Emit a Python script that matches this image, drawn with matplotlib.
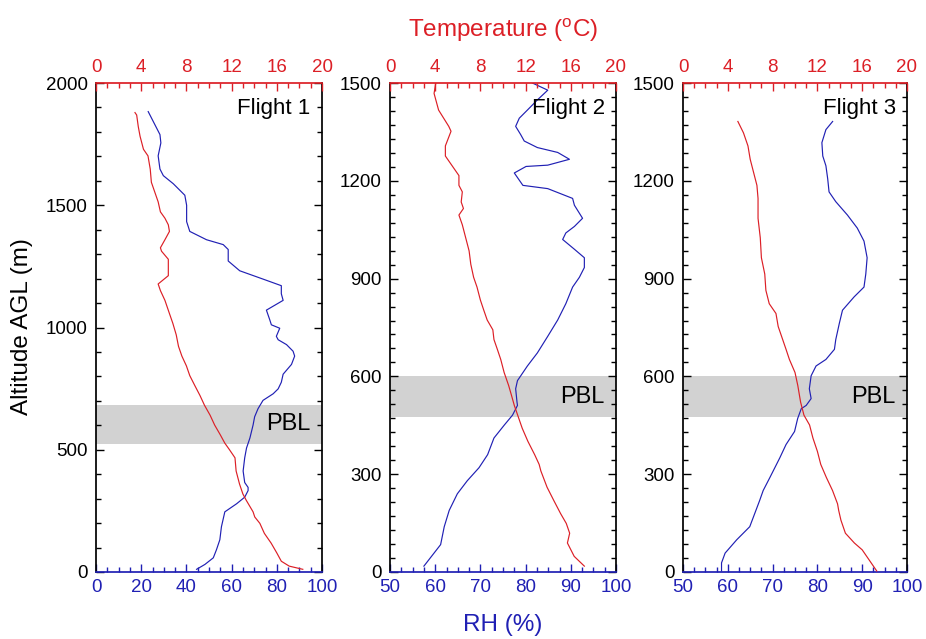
import matplotlib
matplotlib.use('Agg')
import matplotlib.pyplot as plt
from matplotlib.ticker import MultipleLocator

plt.rcParams['font.family'] = ['Liberation Sans', 'DejaVu Sans']
plt.rcParams['mathtext.fontset'] = 'custom'
plt.rcParams['mathtext.rm'] = 'Liberation Sans'

# ---------------- data ----------------
flights = ['Flight 1', 'Flight 2', 'Flight 3']

# Flight 1 - RH profile
f1_rh_alt = [1883, 1789, 1755, 1702, 1648, 1621, 1588, 1541, 1500, 1433, 1393, 1359, 1339, 1319, 1272,
             1232, 1198, 1171, 1138, 1111, 1091, 1071, 1031, 1011, 997, 964, 950, 930, 903, 883, 849,
             809, 776, 749, 729, 702, 668, 635, 601, 548, 507, 467, 413, 366, 346, 333, 306, 279, 246,
             185, 132, 91, 58, 31, 11]
f1_rh = [23.1, 28.3, 28.7, 27.5, 28.3, 29.8, 34.2, 39.3, 40.1, 40.1, 41.5, 48.9, 56.3, 58.5, 58.5,
         63.6, 73.9, 82.0, 82.0, 82.8, 79.1, 75.4, 76.9, 77.6, 81.3, 79.8, 80.6, 84.3, 87.2, 87.9, 86.5,
         82.8, 82.0, 80.6, 78.4, 73.9, 71.7, 70.2, 69.5, 68.1, 66.6, 65.8, 65.1, 65.8, 67.3, 67.3, 65.8,
         62.2, 57.0, 55.5, 54.8, 53.3, 51.9, 48.2, 44.5]
# Flight 1 - temperature profile
f1_t_alt = [1879, 1869, 1822, 1782, 1729, 1702, 1648, 1594, 1554, 1514, 1473, 1447, 1420, 1393, 1359,
            1326, 1312, 1279, 1212, 1178, 1151, 1111, 1057, 1017, 970, 923, 883, 843, 803, 762, 722,
            682, 641, 601, 561, 527, 501, 467, 413, 360, 319, 293, 246, 225, 199, 158, 118, 78, 44, 24, 11]
f1_t = [3.45, 3.6, 3.74, 3.9, 4.2, 4.6, 4.8, 4.9, 5.2, 5.5, 5.7, 6.1, 6.4, 6.5, 6.1,
        5.7, 5.8, 6.4, 6.4, 5.5, 5.7, 6.1, 6.5, 6.8, 7.1, 7.3, 7.6, 8.0, 8.3, 8.75, 9.2,
        9.6, 10.1, 10.5, 11.0, 11.4, 11.8, 12.3, 12.4, 12.7, 13.0, 13.3, 13.9, 14.05, 14.5, 14.9,
        15.5, 16.0, 16.4, 17.1, 18.3]

# Flight 2 - RH profile
f2_rh_alt = [1500, 1478, 1448, 1417, 1392, 1367, 1342, 1322, 1302, 1287, 1266, 1248, 1244, 1224, 1186,
             1176, 1146, 1125, 1085, 1060, 1040, 1020, 990, 964, 934, 904, 874, 823, 773, 723, 672,
             632, 587, 562, 521, 511, 481, 451, 411, 360, 320, 280, 240, 189, 139, 84, 18]
f2_rh = [81.5, 84.9, 82.6, 80.4, 78.6, 77.8, 78.9, 79.7, 82.6, 87.1, 89.7, 84.9, 80.1, 77.5, 79.4,
         84.9, 90.4, 90.8, 92.6, 90.8, 88.9, 88.2, 90.8, 93.0, 93.0, 91.9, 90.4, 88.9, 87.1, 84.9, 82.6,
         80.4, 78.2, 77.8, 78.1, 78.2, 77.1, 75.3, 73.0, 71.6, 69.7, 67.1, 64.9, 63.1, 62.0, 61.2, 57.5]
# Flight 2 - temperature profile
f2_t_alt = [1500, 1468, 1417, 1367, 1352, 1307, 1276, 1236, 1216, 1186, 1166, 1135, 1115, 1095, 1065,
            1025, 985, 944, 904, 874, 834, 803, 773, 743, 713, 683, 652, 612, 572, 542, 511, 481,
            441, 401, 360, 330, 310, 260, 219, 179, 149, 119, 89, 48, 18]
f2_t = [4.05, 3.9, 4.3, 5.2, 5.4, 4.9, 4.9, 5.7, 6.1, 6.1, 6.4, 6.3, 6.5, 6.1, 6.4,
        6.7, 7.0, 7.15, 7.4, 7.7, 8.0, 8.3, 8.6, 9.1, 9.2, 9.5, 9.8, 10.1, 10.5, 10.75, 11.0, 11.3,
        11.7, 12.2, 12.8, 13.2, 13.35, 13.9, 14.5, 15.1, 15.6, 15.9, 15.7, 16.3, 17.2]

# Flight 3 - RH profile
f3_rh_alt = [1382, 1357, 1317, 1276, 1246, 1206, 1166, 1136, 1095, 1055, 1015, 964, 914, 874, 844,
             803, 763, 713, 683, 652, 632, 602, 562, 532, 511, 501, 471, 431, 391, 350, 290, 250,
             219, 139, 99, 58, 28, 3]
f3_rh = [83.4, 81.9, 81.0, 81.2, 81.9, 82.3, 82.6, 84.1, 86.7, 88.9, 90.4, 91.1, 90.8, 90.4, 88.2,
         85.6, 84.9, 84.1, 83.8, 81.9, 79.7, 78.6, 78.2, 78.6, 77.5, 76.4, 75.6, 74.9, 73.0, 71.6,
         69.4, 67.9, 67.1, 64.9, 62.0, 59.4, 58.6, 58.6]
# Flight 3 - temperature profile
f3_t_alt = [1382, 1347, 1307, 1266, 1226, 1186, 1146, 1085, 1025, 964, 914, 864, 823, 793, 753,
            713, 683, 652, 612, 572, 521, 481, 451, 411, 370, 330, 290, 250, 209, 189, 159, 119,
            89, 68, 38, 3]
f3_t = [4.9, 5.4, 5.8, 6.0, 6.3, 6.6, 6.7, 6.7, 6.9, 7.0, 7.3, 7.4, 7.7, 8.3, 8.5,
        8.9, 9.2, 9.5, 10.0, 10.25, 10.5, 10.8, 11.3, 11.6, 12.0, 12.3, 12.8, 13.35, 13.8, 13.9,
        14.1, 14.5, 15.3, 16.0, 16.6, 17.3]

# PBL layers (m)
pbl_lo = [525, 475, 475]
pbl_hi = [685, 600, 600]

# axis ranges / ticks
alt_max = [2000, 1500, 1500]
alt_major = [500, 300, 300]
rh_min = [0, 50, 50]
rh_major = [20, 10, 10]
t_ticks = [0, 4, 8, 12, 16, 20]

# ---------------- plotting ----------------
RED = '#dc1f26'
BLUE = '#2020b4'

W, H = 926, 639
fig = plt.figure(figsize=(W / 100, H / 100), dpi=100)


def rect(l, r, t, b):
    return [l / W, 1 - b / H, (r - l) / W, (b - t) / H]


boxes = [(96, 322), (390, 616), (683, 907)]
rh_data = [(f1_rh, f1_rh_alt), (f2_rh, f2_rh_alt), (f3_rh, f3_rh_alt)]
t_data = [(f1_t, f1_t_alt), (f2_t, f2_t_alt), (f3_t, f3_t_alt)]

for i in range(3):
    ax = fig.add_axes(rect(boxes[i][0], boxes[i][1], 83, 572))
    ax.axhspan(pbl_lo[i], pbl_hi[i], color='#d2d2d2', lw=0, zorder=0)
    ax.plot(rh_data[i][0], rh_data[i][1], color=BLUE, lw=0.85, zorder=2)
    ax.set_xlim(rh_min[i], 100)
    ax.set_ylim(0, alt_max[i])
    ax.xaxis.set_major_locator(MultipleLocator(rh_major[i]))
    ax.xaxis.set_minor_locator(MultipleLocator(rh_major[i] / 4))
    ax.yaxis.set_major_locator(MultipleLocator(alt_major[i]))
    ax.yaxis.set_minor_locator(MultipleLocator(100 if i == 0 else 300 / 7))

    ax.spines['bottom'].set_color(BLUE)
    ax.spines['top'].set_visible(False)
    for s in ['left', 'right']:
        ax.spines[s].set_color('black')
    for s in ax.spines.values():
        s.set_linewidth(1.25)

    ax.tick_params(axis='x', which='both', direction='in', colors=BLUE,
                   labelsize=13.5, pad=5, width=1.0)
    ax.tick_params(axis='x', which='major', length=6)
    ax.tick_params(axis='x', which='minor', length=3.5)
    ax.tick_params(axis='y', which='both', direction='in', left=True, right=True,
                   colors='black', labelsize=13.5, pad=6, width=1.0)
    ax.tick_params(axis='y', which='major', length=6)
    ax.tick_params(axis='y', which='minor', length=3.5)

    axT = ax.twiny()
    axT.plot(t_data[i][0], t_data[i][1], color=RED, lw=0.85, zorder=3)
    axT.set_xlim(0, 20)
    axT.set_xticks(t_ticks)
    axT.xaxis.set_minor_locator(MultipleLocator(1))
    axT.spines['top'].set_color(RED)
    axT.spines['top'].set_linewidth(1.25)
    for s in ['bottom', 'left', 'right']:
        axT.spines[s].set_visible(False)
    axT.tick_params(axis='x', which='both', direction='in', colors=RED,
                    labelsize=13.5, pad=5, width=1.0)
    axT.tick_params(axis='x', which='major', length=6)
    axT.tick_params(axis='x', which='minor', length=3.5)

    ax.text(0.95, 0.97, flights[i], transform=ax.transAxes, ha='right', va='top',
            fontsize=16, color='black')
    ax.text(0.95, (pbl_lo[i] + pbl_hi[i]) / 2 / alt_max[i], 'PBL', transform=ax.transAxes,
            ha='right', va='center', fontsize=17, color='black')

fig.text(503 / W, 1 - 30 / H, 'Temperature ($^{\\mathrm{o}}$C)', color=RED,
         ha='center', va='center', fontsize=17.5)
fig.text(503 / W, 1 - 625 / H, 'RH (%)', color=BLUE, ha='center', va='center', fontsize=17.5)
fig.text(22 / W, 1 - 327 / H, 'Altitude AGL (m)', color='black', rotation=90,
         ha='center', va='center', fontsize=17.5)

fig.savefig('out.png', dpi=100)
